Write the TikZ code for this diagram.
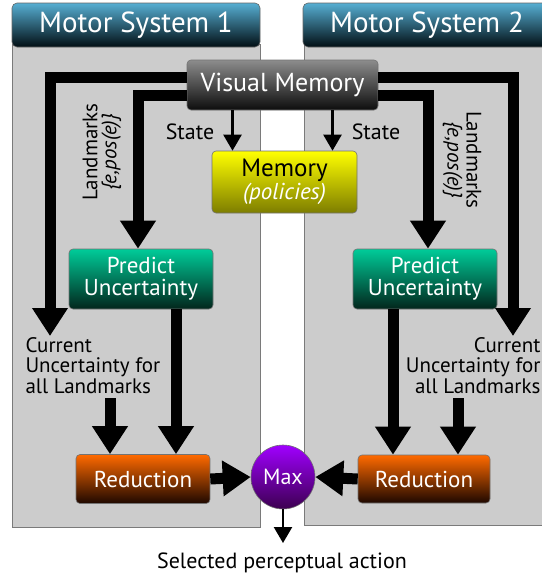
\documentclass[tikz,border=0pt]{standalone}
\usepackage{fontspec}
\setmainfont{PT Sans}
\usetikzlibrary{arrows.meta}
\definecolor{panelgray}{HTML}{CCCCCC}
\definecolor{paneledge}{HTML}{7A7A7A}
\begin{document}
\begin{tikzpicture}[x=1pt,y=-1pt,
  font=\fontsize{21}{21}\selectfont,
  panel/.style={draw=paneledge,fill=panelgray,line width=1pt},
  header/.style={rounded corners=5pt,top color=#1!70!white,bottom color=black!90!#1,draw=black!60,line width=0.6pt},
  box/.style={rounded corners=4pt,draw=black!55,line width=0.6pt,text=white,align=center,
    inner sep=2pt,font=\fontsize{23}{22}\selectfont},
  bigarrow/.style={line width=11pt,line join=miter,-{Triangle[width=34pt,length=28pt]}},
  smallarrow/.style={line width=2.4pt,-{Triangle[width=18pt,length=16pt]}},
  caption/.style={align=left,font=\fontsize{21}{20.5}\selectfont}
]
\useasboundingbox (0,0) rectangle (541,581);

% two panels with their title bars
\draw[panel] (12,44) rectangle (260,527);
\draw[panel] (304,44) rectangle (548,525);
\definecolor{hblue}{HTML}{0E8CC0}
\node[header=hblue,minimum width=248pt,minimum height=44pt,text=white,
  font=\fontsize{29}{30}\selectfont] (h1) at (136,25) {Motor System 1};
\node[header=hblue,minimum width=248pt,minimum height=44pt,text=white,
  font=\fontsize{29}{30}\selectfont] (h2) at (427,25) {Motor System 2};

% shared boxes
\node[box,minimum width=191pt,minimum height=50pt,top color=black!45,bottom color=black!95,
  font=\fontsize{26}{27}\selectfont] (vm) at (282.5,85) {Visual Memory};
\node[box,minimum width=145pt,minimum height=62pt,top color={rgb,255:red,255;green,255;blue,0},
  bottom color={rgb,255:red,125;green,125;blue,0},text=black,font=\fontsize{25}{23}\selectfont]
  (mem) at (284.5,182)
  {Memory\\\textcolor{white}{\fontsize{23}{23}\selectfont\itshape(policies)}};

% per-system boxes
\definecolor{pgreen}{HTML}{00CC99}
\definecolor{pgreend}{HTML}{02261C}
\definecolor{rorange}{HTML}{FF6A00}
\definecolor{rorangd}{HTML}{1E0800}
\node[box,minimum width=144pt,minimum height=60pt,top color=pgreen,bottom color=pgreend]
  (pL) at (141,279) {Predict\\Uncertainty};
\node[box,minimum width=144pt,minimum height=60pt,top color=pgreen,bottom color=pgreend]
  (pR) at (425,279) {Predict\\Uncertainty};
\node[box,minimum width=134pt,minimum height=49pt,top color=rorange,bottom color=rorangd]
  (rL) at (143,479) {Reduction};
\node[box,minimum width=132pt,minimum height=48pt,top color=rorange,bottom color=rorangd]
  (rR) at (424,479) {Reduction};
\node[circle,draw=black!55,line width=0.6pt,minimum size=64pt,inner sep=0pt,text=white,
  top color={rgb,255:red,160;green,0;blue,255},bottom color={rgb,255:red,60;green,0;blue,80},
  font=\fontsize{22}{22}\selectfont] (mx) at (283,477) {Max};

% labels
\node[rotate=90,align=center,font=\fontsize{21}{19}\selectfont] (lmL) at (102,152)
  {Landmarks\\{\itshape\{e,pos(e)\}}};
\node[rotate=-90,align=center,font=\fontsize{21}{19}\selectfont] (lmR) at (462,160)
  {Landmarks\\{\itshape\{e,pos(e)\}}};
\node[font=\fontsize{22}{22}\selectfont] (stL) at (190,132) {State};
\node[font=\fontsize{22}{22}\selectfont] (stR) at (376,132) {State};
\node[caption,anchor=north west] (cuL) at (22,334)
  {Current\\Uncertainty for\\all Landmarks};
\node[caption,anchor=north east,align=right] (cuR) at (544,334)
  {Current\\Uncertainty for\\all Landmarks};
\node[font=\fontsize{22}{22}\selectfont] (sel) at (282,563) {Selected perceptual action};

% end points of the open arrows
\coordinate (oL) at (50,336);
\coordinate (oR) at (513,336);
\coordinate (sL) at (110,398);
\coordinate (sR) at (458,398);
\coordinate (out) at (283,543);

% landmark flows from visual memory
\draw[bigarrow] ([yshift=8pt]vm.west) -| (oL);
\draw[bigarrow] ([yshift=-10pt]vm.west) -| ([xshift=-3pt]pL.north);
\draw[bigarrow] ([yshift=8pt]vm.east) -| (oR);
\draw[bigarrow] ([yshift=-10pt]vm.east) -| ([xshift=3pt]pR.north);

% state flows
\draw[smallarrow] ([xshift=-50pt]vm.south) -- ([xshift=-50pt]vm.south |- mem.north);
\draw[smallarrow] ([xshift=50pt]vm.south) -- ([xshift=50pt]vm.south |- mem.north);

% into the reduction boxes
\draw[bigarrow] (sL) -- (sL |- rL.north);
\draw[bigarrow] ([xshift=35pt]pL.south) -- ([xshift=35pt]pL.south |- rL.north);
\draw[bigarrow] (sR) -- (sR |- rR.north);
\draw[bigarrow] ([xshift=-32pt]pR.south) -- ([xshift=-32pt]pR.south |- rR.north);

% to the max node and out
\draw[bigarrow] (rL.east) -- (mx.west);
\draw[bigarrow] (rR.west) -- (mx.east);
\draw[smallarrow] (mx.south) -- (out);
\end{tikzpicture}
\end{document}
